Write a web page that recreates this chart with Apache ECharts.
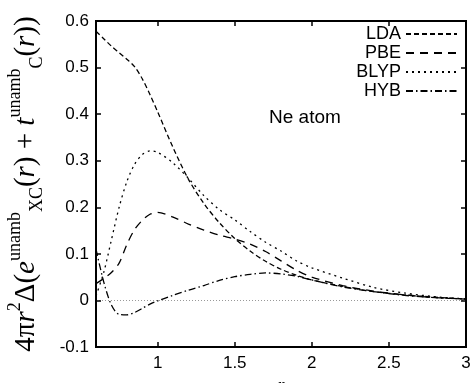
<!DOCTYPE html>
<html>
<head>
<meta charset="utf-8">
<script src="https://cdn.jsdelivr.net/npm/echarts@6/dist/echarts.min.js"></script>
<style>
  html, body { margin: 0; padding: 0; background: #fff; }
  #main { width: 471px; height: 383px; }
</style>
</head>
<body>
<div id="main"></div>
<script>
// r 取样点
var rValues = [0.6, 0.65, 0.7, 0.75, 0.8, 0.85, 0.9, 0.95, 1.0, 1.1, 1.2, 1.3, 1.4, 1.5, 1.6, 1.7, 1.8, 1.9, 2.0, 2.2, 2.4, 2.6, 2.8, 3.0];

// 各泛函曲线
var ldaValues  = [0.578, 0.562, 0.546, 0.532, 0.518, 0.502, 0.476, 0.442, 0.405, 0.328, 0.260, 0.208, 0.167, 0.133, 0.106, 0.084, 0.067, 0.054, 0.044, 0.030, 0.019, 0.012, 0.007, 0.003];
var pbeValues  = [0.036, 0.047, 0.060, 0.080, 0.120, 0.152, 0.172, 0.185, 0.189, 0.179, 0.164, 0.151, 0.140, 0.132, 0.121, 0.105, 0.085, 0.065, 0.050, 0.032, 0.020, 0.012, 0.006, 0.003];
var blypValues = [0.010, 0.060, 0.130, 0.200, 0.255, 0.292, 0.313, 0.321, 0.318, 0.295, 0.262, 0.225, 0.195, 0.173, 0.148, 0.125, 0.106, 0.085, 0.070, 0.048, 0.028, 0.016, 0.008, 0.003];
var hybValues  = [0.110, 0.040, -0.010, -0.030, -0.031, -0.026, -0.017, -0.008, -0.001, 0.011, 0.022, 0.032, 0.043, 0.051, 0.056, 0.059, 0.057, 0.052, 0.044, 0.029, 0.019, 0.011, 0.006, 0.003];

var seriesNames = ['LDA', 'PBE', 'BLYP', 'HYB'];

function pairs(ys) {
    var out = [];
    for (var i = 0; i < rValues.length; i++) {
        out.push([rValues[i], ys[i]]);
    }
    return out;
}

var myChart = echarts.init(document.getElementById('main'));

var sansFont = '"Liberation Sans", Arial, sans-serif';
var serifFont = '"Liberation Serif", "DejaVu Serif", serif';

// itemStyle 透明: 图例里不画圆点
function lineSeries(name, ys, dash) {
    return {
        name: name,
        type: 'line',
        data: pairs(ys),
        smooth: 0.3,
        symbol: 'none',
        lineStyle: {color: '#000', width: 1.3, type: dash},
        itemStyle: {color: 'rgba(0,0,0,0)', borderWidth: 0}
    };
}

// 边框轴的公共部分
function frameLine() {
    return {show: true, onZero: false, lineStyle: {color: '#000', width: 2}};
}
function frameTick() {
    return {show: true, inside: true, length: 5, lineStyle: {color: '#000', width: 1.5}};
}

var option = {
    animation: false,
    grid: {
        left: 96, right: 5, top: 21, bottom: 36,
        outerBoundsMode: 'none',
        containLabel: false,
        show: true,
        z: 10,
        borderColor: '#000',
        borderWidth: 2
    },
    legend: {
        data: seriesNames,
        orient: 'vertical',
        right: 8,
        top: 20,
        itemWidth: 51,
        itemHeight: 14,
        itemGap: 1,
        align: 'right',
        formatter: '{a|{name}}',
        textStyle: {
            rich: {
                a: {width: 50, align: 'right', fontSize: 18, lineHeight: 18, fontFamily: sansFont, color: '#000'}
            }
        }
    },
    graphic: [{
        type: 'text',
        left: 269,
        top: 108,
        style: {text: 'Ne atom', font: '19px ' + sansFont, fill: '#000'}
    }],
    xAxis: [{
        type: 'value',
        min: 0.6,
        max: 3,
        splitNumber: 5,
        position: 'bottom',
        z: 10,
        name: 'r',
        nameLocation: 'middle',
        nameGap: 30,
        nameTextStyle: {fontFamily: serifFont, fontStyle: 'italic', fontSize: 18, color: '#000'},
        axisLine: frameLine(),
        axisTick: frameTick(),
        axisLabel: {showMinLabel: false, fontSize: 17, fontFamily: sansFont, color: '#000', margin: 8},
        splitLine: {show: false}
    }, {
        type: 'value',
        min: 0.6,
        max: 3,
        splitNumber: 5,
        position: 'top',
        z: 10,
        axisLine: frameLine(),
        axisTick: frameTick(),
        axisLabel: {show: false},
        splitLine: {show: false}
    }],
    yAxis: [{
        type: 'value',
        min: -0.1,
        max: 0.6,
        interval: 0.1,
        position: 'left',
        z: 10,
        name: '{n|4π}{i|r}{sup|2}{n|Δ(}{i|e}{sup|unamb}{sub|XC}{n|(}{i|r}{n|) + }{i|t}{sup|unamb}{sub|C}{n|(}{i|r}{n|))}',
        nameLocation: 'middle',
        nameRotate: 90,
        nameGap: 50,
        nameTextStyle: {
            rich: {
                n: {fontFamily: serifFont, fontSize: 29, color: '#000', lineHeight: 40},
                i: {fontFamily: serifFont, fontStyle: 'italic', fontSize: 29, color: '#000', lineHeight: 40},
                sup: {fontFamily: serifFont, fontSize: 18, color: '#000', lineHeight: 20, verticalAlign: 'top'},
                sub: {fontFamily: serifFont, fontSize: 18, color: '#000', lineHeight: 16, verticalAlign: 'bottom'}
            }
        },
        axisLine: frameLine(),
        axisTick: frameTick(),
        axisLabel: {fontSize: 17, fontFamily: sansFont, color: '#000', margin: 7},
        splitLine: {show: false}
    }, {
        type: 'value',
        min: -0.1,
        max: 0.6,
        interval: 0.1,
        position: 'right',
        z: 10,
        axisLine: frameLine(),
        axisTick: frameTick(),
        axisLabel: {show: false},
        splitLine: {show: false}
    }],
    series: [
        lineSeries('LDA', ldaValues, [5, 3]),
        lineSeries('PBE', pbeValues, [8, 6]),
        lineSeries('BLYP', blypValues, [2, 4]),
        {
            name: 'HYB',
            type: 'line',
            data: pairs(hybValues),
            smooth: 0.3,
            symbol: 'none',
            lineStyle: {color: '#000', width: 1.3, type: [7, 3, 1.5, 3]},
            itemStyle: {color: 'rgba(0,0,0,0)', borderWidth: 0},
            markLine: {
                silent: true,
                symbol: 'none',
                label: {show: false},
                lineStyle: {color: '#999', width: 1, type: [1, 2]},
                data: [{yAxis: 0}]
            }
        }
    ]
};

myChart.setOption(option);
</script>
</body>
</html>
